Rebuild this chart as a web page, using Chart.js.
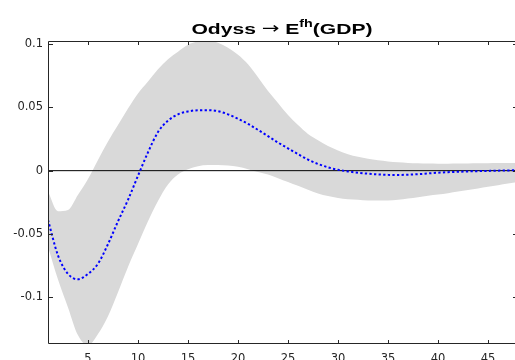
<!DOCTYPE html>
<html><head><meta charset="utf-8">
<script src="https://cdn.jsdelivr.net/npm/chart.js@4/dist/chart.umd.min.js"></script>
<style>html,body{margin:0;padding:0;background:#fff;overflow:hidden;width:515px;height:360px}
canvas{display:block}</style></head>
<body><canvas id="c" width="530" height="360" style="width:530px;height:360px"></canvas>
<script>
const steps = [1,2,3,4,5,6,7,8,9,10,11,12,13,14,15,16,17,18,19,20,21,22,23,24,25,26,27,28,29,30,31,32,33,34,35,36,37,38,39,40,41,42,43,44,45,46,47,48];
const irfMedian = [-0.039,-0.067,-0.0815,-0.0858,-0.0815,-0.0735,-0.058,-0.040,-0.023,-0.004,
  0.0145,0.0305,0.0395,0.0445,0.0468,0.0477,0.0478,0.047,0.0445,0.041,
  0.037,0.0322,0.0273,0.0222,0.0176,0.0131,0.0087,0.0053,0.0026,0.0007,
  -0.0006,-0.0016,-0.0024,-0.003,-0.0033,-0.0034,-0.0032,-0.0028,-0.0022,-0.0016,
  -0.0012,-0.0009,-0.0006,-0.0004,-0.0002,0,0.0002,0.0003];
const bandLower = [-0.060,-0.086,-0.108,-0.130,-0.138,-0.129,-0.115,-0.096,-0.076,-0.058,
  -0.040,-0.024,-0.011,-0.003,0.0012,0.0035,0.0045,0.0045,0.004,0.003,
  0.0012,-0.001,-0.003,-0.006,-0.009,-0.012,-0.015,-0.018,-0.020,-0.0215,
  -0.0225,-0.023,-0.0235,-0.0235,-0.0235,-0.023,-0.022,-0.021,-0.0198,-0.0188,
  -0.0178,-0.0165,-0.0153,-0.014,-0.0128,-0.0115,-0.0102,-0.009];
const bandUpper = [-0.0165,-0.032,-0.031,-0.019,-0.0065,0.0085,0.023,0.036,0.049,0.061,
  0.0705,0.080,0.088,0.094,0.0995,0.102,0.1035,0.101,0.097,0.0915,
  0.084,0.0738,0.063,0.0535,0.044,0.036,0.029,0.024,0.0195,0.016,
  0.013,0.011,0.0095,0.0082,0.0073,0.0066,0.0061,0.0058,0.0056,0.0055,
  0.0055,0.0056,0.0057,0.0058,0.0059,0.006,0.006,0.0061];
const zeroX = [1, 48];
const zeroY = [0, 0];
const xTicks = [5,10,15,20,25,30,35,40,45];
const xTickLabels = ['5','10','15','20','25','30','35','40','45'];
const yTicks = [-0.1,-0.05,0,0.05,0.1];
const yTickLabels = ['-0.1','-0.05','0','0.05','0.1'];
const titleParts = ['Odyss', '\u2192', 'E', 'fh', '(GDP)'];

const AX = '#262626';
const FONT = 'DejaVu Sans';

const pts = (xs, ys) => xs.map((x, i) => ({x: x, y: ys[i]}));

const boxPlugin = {
  id: 'box',
  afterDatasetsDraw(chart) {
    const {ctx, chartArea: a, scales} = chart;
    const L = Math.round(a.left) + 0.5, R = Math.round(a.right) - 0.5;
    const T = Math.round(a.top) + 0.5, B = Math.round(a.bottom) - 0.5;
    ctx.save();
    ctx.strokeStyle = AX; ctx.lineWidth = 1;
    ctx.beginPath();
    ctx.rect(L, T, R - L, B - T);
    xTicks.forEach(v => {
      const px = Math.round(scales.x.getPixelForValue(v)) + 0.5;
      ctx.moveTo(px, B); ctx.lineTo(px, B - 3.5);
      ctx.moveTo(px, T); ctx.lineTo(px, T + 3.5);
    });
    yTicks.forEach(v => {
      const py = Math.round(scales.y.getPixelForValue(v)) + 0.5;
      ctx.moveTo(L, py); ctx.lineTo(L + 4.5, py);
      ctx.moveTo(R, py); ctx.lineTo(R - 4.5, py);
    });
    ctx.stroke();
    ctx.restore();
  }
};

const titlePlugin = {
  id: 'texTitle',
  afterDraw(chart) {
    const {ctx, chartArea: a} = chart;
    const sx = 1.36;
    const specs = [
      {t: titleParts[0] + ' ', f: 'bold 15.5px "Liberation Sans"', dy: 0},
      {t: titleParts[1], f: '15.5px "DejaVu Sans"', dy: -0.5},
      {t: ' ' + titleParts[2], f: 'bold 15.5px "Liberation Sans"', dy: 0},
      {t: titleParts[3], f: 'bold 10.5px "Liberation Sans"', dy: -7},
      {t: titleParts[4], f: 'bold 15.5px "Liberation Sans"', dy: 0}
    ];
    ctx.save();
    let total = 0;
    specs.forEach(s => { ctx.font = s.f; s.w = ctx.measureText(s.t).width; total += s.w; });
    const cx = 282;
    ctx.translate(cx, 33.5);
    ctx.scale(sx, 1);
    ctx.fillStyle = '#000';
    ctx.textBaseline = 'alphabetic';
    ctx.textAlign = 'left';
    let x = -total / 2;
    specs.forEach(s => { ctx.font = s.f; ctx.fillText(s.t, x, s.dy); x += s.w; });
    ctx.restore();
  }
};

new Chart(document.getElementById('c'), {
  type: 'line',
  data: {
    datasets: [
      {data: pts(steps, bandLower), borderWidth: 0, pointRadius: 0, fill: false, order: 3, borderColor: 'rgba(0,0,0,0)', cubicInterpolationMode: 'monotone'},
      {data: pts(steps, bandUpper), borderWidth: 0, pointRadius: 0, fill: '-1', backgroundColor: '#d9d9d9', order: 2, borderColor: 'rgba(0,0,0,0)', cubicInterpolationMode: 'monotone'},
      {data: pts(zeroX, zeroY), borderColor: '#000', borderWidth: 1, pointRadius: 0, fill: false, order: 1},
      {data: pts(steps, irfMedian), borderColor: '#0000ff', borderWidth: 2, borderDash: [2.3, 2.3], pointRadius: 0, fill: false, order: 0, cubicInterpolationMode: 'monotone'}
    ]
  },
  options: {
    responsive: false,
    animation: false,
    events: [],
    devicePixelRatio: 1,
    layout: {padding: {top: 41, right: 12, left: 0, bottom: 0}},
    plugins: {legend: {display: false}, tooltip: {enabled: false}, title: {display: false}},
    scales: {
      x: {
        type: 'linear', min: 1, max: 48,
        grid: {display: false, drawTicks: false},
        border: {display: false},
        afterBuildTicks: s => { s.ticks = xTicks.map(v => ({value: v})); },
        afterFit: s => { s.height = 16; },
        ticks: {
          autoSkip: false, maxRotation: 0, padding: 8, color: AX,
          font: {family: FONT, size: 11.5},
          callback: (v, i) => xTickLabels[i]
        }
      },
      y: {
        type: 'linear', min: -0.1369, max: 0.1024,
        grid: {display: false, drawTicks: false},
        border: {display: false},
        afterBuildTicks: s => { s.ticks = yTicks.map(v => ({value: v})); },
        afterFit: s => { s.width = 48; },
        ticks: {
          autoSkip: false, padding: 5, color: AX,
          font: {family: FONT, size: 11.5},
          callback: (v, i) => yTickLabels[i]
        }
      }
    }
  },
  plugins: [boxPlugin, titlePlugin]
});
</script>
</body></html>
